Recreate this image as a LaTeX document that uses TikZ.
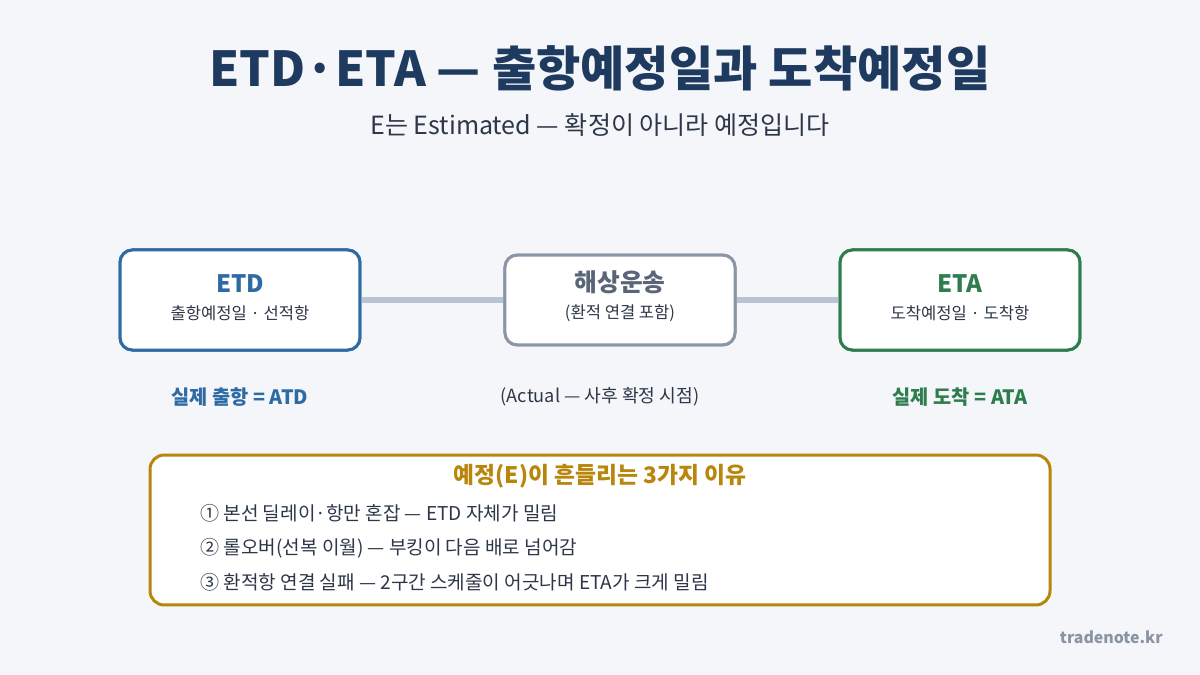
\documentclass[tikz,border=0pt]{standalone}
\usepackage{fontspec}
\setmainfont{Noto Sans CJK KR}
\definecolor{bg}{HTML}{F4F6FA}
\definecolor{navy}{HTML}{1F3A5F}
\definecolor{etdblue}{HTML}{2E6AA3}
\definecolor{etagreen}{HTML}{2E7D4F}
\definecolor{midgray}{HTML}{8A96A6}
\definecolor{midtext}{HTML}{5A6678}
\definecolor{linegray}{HTML}{B8C4D2}
\definecolor{gold}{HTML}{B8860B}
\definecolor{bodytext}{HTML}{2D3748}
\definecolor{footgray}{HTML}{8A94A3}
\newcommand{\fs}[1]{\fontsize{#1pt}{#1pt}\selectfont}
\tikzset{
  card/.style={draw=#1, line width=1.7pt, rounded corners=7pt, fill=white, inner sep=0pt},
  conn/.style={draw=linegray, line width=3.4pt},
}
\begin{document}
\begin{tikzpicture}[x=0.5669pt, y=-0.5669pt]
\useasboundingbox (0,0) rectangle (1200,675);
\fill[bg] (0,0) rectangle (1200,675);
% title
\node[text=navy, font=\fs{27.3}\bfseries] (title) at (600,68) {ETD·ETA — 출항예정일과 도착예정일};
\node[text=bodytext, font=\fs{14.2}] (sub) at (600,125) {E는 Estimated — 확정이 아니라 예정입니다};
% cards
\node[card=etdblue, minimum width=136pt, minimum height=56.7pt] (etd) at (240,300) {};
\node[card=midgray, minimum width=130.4pt, minimum height=51pt] (sea) at (620,300) {};
\node[card=etagreen, minimum width=136pt, minimum height=56.7pt] (eta) at (960,300) {};
\draw[conn] (etd.east) -- (sea.west);
\draw[conn] (sea.east) -- (eta.west);
\node[card=etdblue, minimum width=136pt, minimum height=56.7pt] at (240,300) {};
\node[card=midgray, minimum width=130.4pt, minimum height=51pt] at (620,300) {};
\node[card=etagreen, minimum width=136pt, minimum height=56.7pt] at (960,300) {};
\node[text=etdblue, font=\fs{13.6}\bfseries] (etdt) at (240,284) {ETD};
\node[text=bodytext, font=\fs{9.4}] (etds) at (240,313) {출항예정일 · 선적항};
\node[text=midtext, font=\fs{14}\bfseries] (seat) at (620,282) {해상운송};
\node[text=bodytext, font=\fs{9.4}] (seas) at (620,313) {(환적 연결 포함)};
\node[text=etagreen, font=\fs{13.6}\bfseries] (etat) at (960,284) {ETA};
\node[text=bodytext, font=\fs{9.4}] (etas) at (960,313) {도착예정일 · 도착항};
% actual labels
\node[text=etdblue, font=\fs{11.2}\bfseries] (atd) at (240,397) {실제 출항 = ATD};
\node[text=bodytext, font=\fs{10.3}] (act) at (600,397) {(Actual — 사후 확정 시점)};
\node[text=etagreen, font=\fs{11.2}\bfseries] (ata) at (960,397) {실제 도착 = ATA};
% reasons box
\node[draw=gold, line width=1.7pt, rounded corners=8pt, fill=white, minimum width=510.2pt, minimum height=85pt] (box) at (600,530) {};
\node[text=gold, font=\fs{12.9}\bfseries] (boxt) at (600,476) {예정(E)이 흔들리는 3가지 이유};
\node[text=bodytext, font=\fs{10.8}, anchor=west, inner sep=0pt] (r1) at (200,513) {① 본선 딜레이·항만 혼잡 — ETD 자체가 밀림};
\node[text=bodytext, font=\fs{10.8}, anchor=west, inner sep=0pt] (r2) at (200,548) {② 롤오버(선복 이월) — 부킹이 다음 배로 넘어감};
\node[text=bodytext, font=\fs{10.8}, anchor=west, inner sep=0pt] (r3) at (200,582) {③ 환적항 연결 실패 — 2구간 스케줄이 어긋나며 ETA가 크게 밀림};
% footer
\node[text=footgray, font=\fs{9}\bfseries, anchor=east, inner sep=0pt] (foot) at (1163,637) {tradenote.kr};
\end{tikzpicture}
\end{document}
